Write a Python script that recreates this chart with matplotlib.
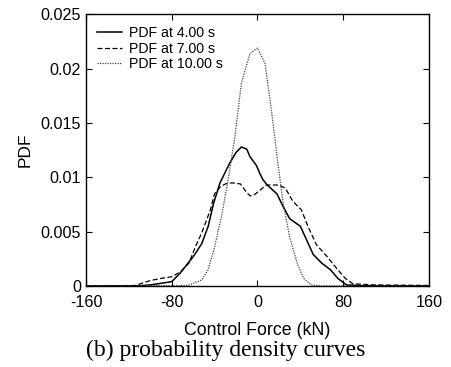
import matplotlib
matplotlib.use("Agg")
import matplotlib.pyplot as plt

plt.rcParams['font.family'] = ['Liberation Sans', 'DejaVu Sans']
plt.rcParams['axes.unicode_minus'] = False

# PDF at 4.00 s
x4 = [-160, -110, -100, -80, -72, -60, -52, -46, -41, -35, -26, -20, -15, -10, -7, -1,
      2, 5, 9, 18, 24, 30, 40, 46, 52, 60, 68, 75, 83, 100, 160]
y4 = [0, 0.00002, 0.0001, 0.0004, 0.0012, 0.0027, 0.0039, 0.0055, 0.0076, 0.0095, 0.0113,
      0.0123, 0.0128, 0.0126, 0.0119, 0.0111, 0.0104, 0.0098, 0.0093, 0.0085, 0.0073,
      0.0062, 0.0055, 0.0042, 0.0029, 0.0021, 0.0015, 0.0007, 0.0001, 0.00002, 0]

# PDF at 7.00 s
x7 = [-160, -114, -100, -90, -80, -72, -64, -58, -52, -44, -40, -35, -30, -24, -16, -10,
      -7, -3, 1, 8, 15, 20, 26, 33, 41, 47, 55, 65, 74, 82, 89, 110, 160]
y7 = [0, 0.00005, 0.0005, 0.0007, 0.00085, 0.0013, 0.0021, 0.0036, 0.0049, 0.007, 0.0085,
      0.0091, 0.0094, 0.0095, 0.0094, 0.0086, 0.0083, 0.0084, 0.0087, 0.0093, 0.0093,
      0.0093, 0.009, 0.0078, 0.007, 0.0055, 0.0038, 0.0027, 0.0016, 0.0007, 0.0002,
      0.0001, 0.00005]

# PDF at 10.00 s
x10 = [-160, -65, -52, -46, -40, -33, -27, -21, -15, -7, 0, 7, 13, 19, 24, 30, 37, 43,
       50, 60, 160]
y10 = [0, 0.00005, 0.00055, 0.0015, 0.0036, 0.0067, 0.0100, 0.0138, 0.0187, 0.0214,
       0.0219, 0.0205, 0.0162, 0.0113, 0.0076, 0.0045, 0.0021, 0.0007, 0.0001, 0, 0]

xticks = [-160, -80, 0, 80, 160]
yticks = [0, 0.005, 0.01, 0.015, 0.02, 0.025]
ytick_labels = ['0', '0.005', '0.01', '0.015', '0.02', '0.025']

fig = plt.figure(figsize=(4.51, 3.67), dpi=100)
ax = fig.add_axes([0.1907, 0.2207, 0.7605, 0.7398])

ax.plot(x4, y4, color='black', lw=1.1, ls='-', label='PDF at 4.00 s')
ax.plot(x7, y7, color='black', lw=0.9, ls=(0, (4, 2)), label='PDF at 7.00 s')
ax.plot(x10, y10, color='#444444', lw=0.9, ls=(0, (1, 1)), label='PDF at 10.00 s')

ax.set_xlim(-160, 160)
ax.set_ylim(0, 0.025)
ax.set_xticks(xticks)
ax.set_yticks(yticks)
ax.set_yticklabels(ytick_labels)
ax.tick_params(direction='in', top=True, right=True, labelsize=11.6, length=4, width=0.8)
ax.tick_params(axis='x', pad=6.5)
for s in ax.spines.values():
    s.set_linewidth(1.0)

ax.set_xlabel('Control Force (kN)', fontsize=12.8, labelpad=8.5)
ax.set_ylabel('PDF', fontsize=12.5, labelpad=6)

leg = ax.legend(loc='upper left', frameon=False, fontsize=10.2, handlelength=1.75,
                labelspacing=0.12, borderaxespad=0.4, handletextpad=0.5)

fig.text(0.5, 0.045, '(b) probability density curves', ha='center', va='center',
         fontsize=17, family=['Liberation Serif', 'DejaVu Serif'])

fig.savefig('out.png', dpi=100)
